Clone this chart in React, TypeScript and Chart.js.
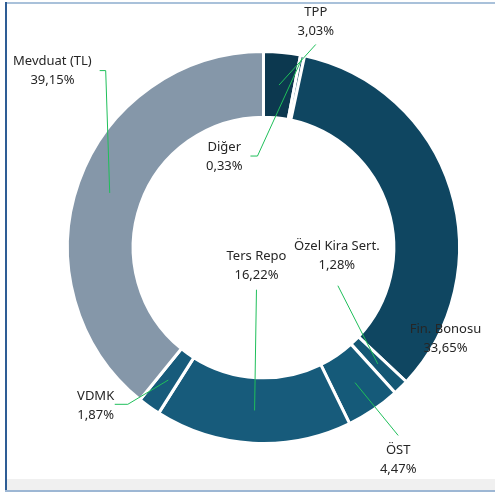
import React, { useEffect, useRef } from "react";
import { Chart, registerables } from "chart.js";

Chart.register(...registerables);

const categories = ["TPP", "Diğer", "Fin. Bonosu", "Özel Kira Sert.", "ÖST", "Ters Repo", "VDMK", "Mevduat (TL)"];
const shares = [3.03, 0.33, 33.65, 1.28, 4.47, 16.22, 1.87, 39.15];
const shareLabels = ["3,03%", "0,33%", "33,65%", "1,28%", "4,47%", "16,22%", "1,87%", "39,15%"];

const sliceColors = ["#0c384f", "#0f4661", "#0f4661", "#145774", "#155a79", "#175b7b", "#175b7b", "#8597a9"];

// label layout: text centre offset from chart centre (px at radius 195), leader path points, anchor radius fraction within ring
type Layout = { tx: number; ty: number; path: number[][]; anchor: number };
const layouts: Layout[] = [
  { tx: 52, ty: -234, path: [[52, -202]], anchor: 0.5 },
  { tx: -39, ty: -100, path: [[-13, -91], [-6, -91]], anchor: 0.95 },
  { tx: 181, ty: 81, path: [], anchor: 0.5 },
  { tx: 73, ty: -1, path: [[74, 38]], anchor: 0.5 },
  { tx: 134, ty: 202, path: [[134, 187]], anchor: 0.5 },
  { tx: -7, ty: 9, path: [[-7, 42]], anchor: 0.5 },
  { tx: -167, ty: 148, path: [[-148, 156], [-135, 156]], anchor: 0.5 },
  { tx: -210, ty: -185, path: [[-163, -176], [-157, -176]], anchor: 0.5 },
];

const labelPlugin = {
  id: "leaderLabels",
  afterDatasetsDraw(chart: any) {
    const ctx = chart.ctx;
    const meta = chart.getDatasetMeta(0);
    ctx.save();
    meta.data.forEach((arc: any, i: number) => {
      const p = arc.getProps(["x", "y", "startAngle", "endAngle", "innerRadius", "outerRadius"], true);
      const s = p.outerRadius / 195;
      const mid = (p.startAngle + p.endAngle) / 2;
      const lay = layouts[i];
      const r = p.innerRadius + (p.outerRadius - p.innerRadius) * lay.anchor;
      const ax = p.x + Math.cos(mid) * r;
      const ay = p.y + Math.sin(mid) * r;
      if (lay.path.length) {
        ctx.beginPath();
        ctx.strokeStyle = "#1fbf5a";
        ctx.lineWidth = 1;
        lay.path.forEach((pt, k) => {
          const px = p.x + pt[0] * s;
          const py = p.y + pt[1] * s;
          if (k === 0) ctx.moveTo(px, py);
          else ctx.lineTo(px, py);
        });
        ctx.lineTo(ax, ay);
        ctx.stroke();
      }
      ctx.fillStyle = "#262626";
      ctx.font = "13px 'Noto Sans', sans-serif";
      ctx.textAlign = "center";
      ctx.textBaseline = "middle";
      const tx = p.x + lay.tx * s;
      const ty = p.y + lay.ty * s;
      ctx.fillText(categories[i], tx, ty);
      ctx.fillText(shareLabels[i], tx, ty + 19);
    });
    ctx.restore();
  },
};

export default function App() {
  const ref = useRef<HTMLCanvasElement>(null);
  useEffect(() => {
    if (!ref.current) return;
    const chart = new Chart(ref.current, {
      type: "doughnut",
      data: {
        labels: categories,
        datasets: [
          {
            data: shares,
            backgroundColor: sliceColors,
            borderColor: "#ffffff",
            borderWidth: 3,
            hoverOffset: 0,
            offset: 0,
          },
        ],
      },
      options: {
        animation: false,
        responsive: false,
        cutout: "66.5%",
        layout: { padding: { left: 66, top: 50, right: 34, bottom: 49 } },
        plugins: { legend: { display: false }, tooltip: { enabled: false } },
      },
      plugins: [labelPlugin],
    });
    return () => chart.destroy();
  }, []);
  return (
    <div style={{ position: "fixed", left: 0, top: 0, width: 495, height: 494, background: "#fff", overflow: "hidden" }}>
      <div style={{ position: "absolute", left: 5, top: 2, width: 490, height: 2, background: "#a9c1da" }} />
      <div style={{ position: "absolute", left: 5, top: 2, width: 2, height: 489, background: "#2e5d95" }} />
      <div style={{ position: "absolute", left: 7, top: 479, width: 488, height: 11, background: "#f0f0f0" }} />
      <div style={{ position: "absolute", left: 5, top: 490, width: 490, height: 2, background: "#9db7d4" }} />
      <canvas ref={ref} width={495} height={494} style={{ position: "absolute", left: 0, top: 0, width: 495, height: 494 }} />
    </div>
  );
}
